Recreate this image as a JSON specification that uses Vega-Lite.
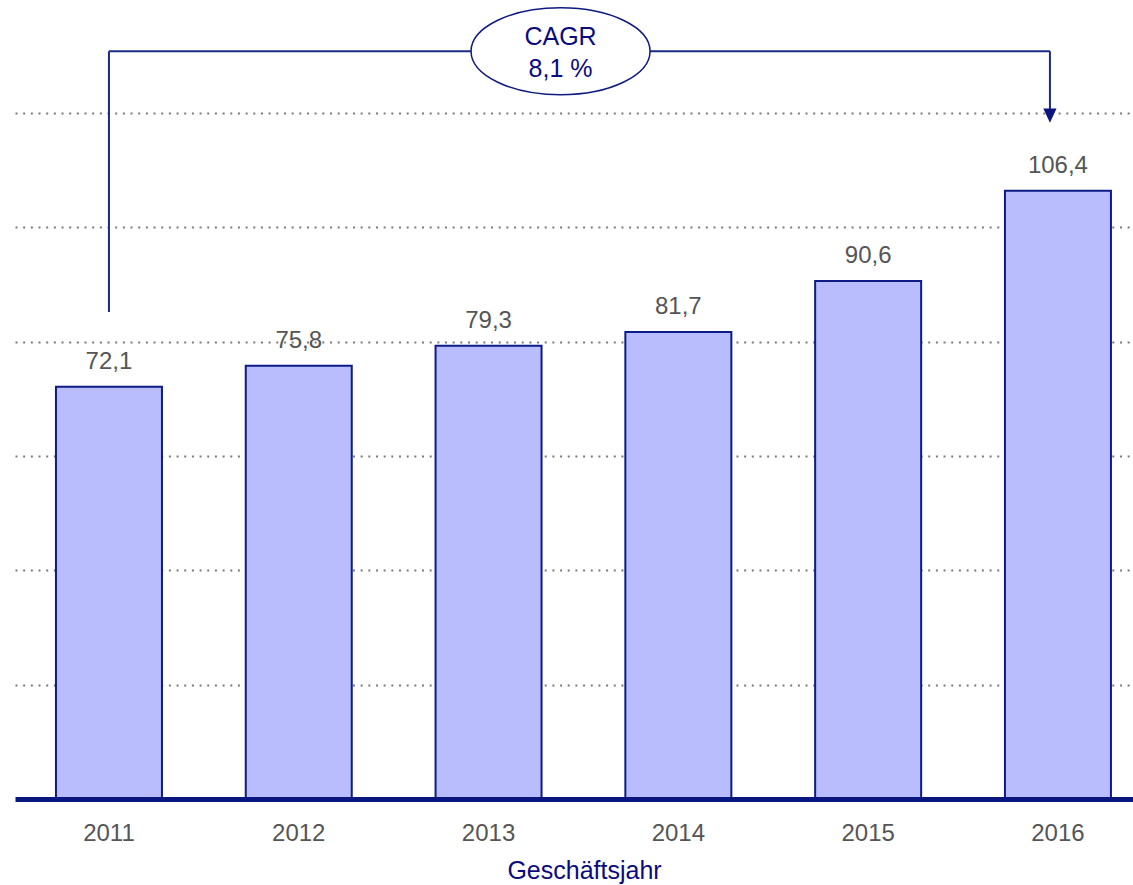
{
  "$schema": "https://vega.github.io/schema/vega-lite/v6.json",
  "width": 1118,
  "height": 686,
  "autosize": {"type": "none"},
  "padding": {"left": 15, "top": 113, "right": 0, "bottom": 86},
  "config": {
    "font": "Liberation Sans",
    "view": {"stroke": null},
    "locale": {"number": {"decimal": ",", "thousands": ".", "grouping": [3], "currency": ["", " €"]}}
  },
  "encoding": {
    "x": {
      "field": "year",
      "type": "ordinal",
      "scale": {"paddingInner": 0.4415, "paddingOuter": 0.166, "align": 0.65},
      "axis": {
        "title": "Geschäftsjahr",
        "labelAngle": 0,
        "grid": false,
        "ticks": false,
        "tickSize": 0,
        "domainColor": "#0a1680",
        "domainWidth": 5,
        "labelFontSize": 24,
        "labelColor": "#555555",
        "labelPadding": 41,
        "labelBaseline": "alphabetic",
        "titleFontSize": 25,
        "titleFontWeight": "normal",
        "titleColor": "#0b0b7d",
        "titleBaseline": "alphabetic",
        "titleAlign": "center",
        "titleX": 569,
        "titleY": 79,
        "zindex": 1
      }
    },
    "y": {
      "field": "value",
      "type": "quantitative",
      "scale": {"domain": [0, 120], "nice": false},
      "axis": {
        "title": null,
        "domain": false,
        "labels": false,
        "ticks": false,
        "grid": true,
        "values": [20, 40, 60, 80, 100, 120],
        "gridColor": "#7a7a7a",
        "gridWidth": 2,
        "gridDash": [2, 5.67]
      }
    }
  },
  "layer": [
    {
      "data": {"values": [
        {"year": "2011", "value": 72.1},
        {"year": "2012", "value": 75.8},
        {"year": "2013", "value": 79.3},
        {"year": "2014", "value": 81.7},
        {"year": "2015", "value": 90.6},
        {"year": "2016", "value": 106.4}
      ]},
      "layer": [
        {"mark": {"type": "bar", "fill": "#b9bdfe", "stroke": "#0d1b85", "strokeWidth": 2}},
        {
          "mark": {"type": "text", "baseline": "alphabetic", "dy": -18, "fontSize": 24, "color": "#555555"},
          "encoding": {"text": {"field": "value", "type": "quantitative", "format": ".1f"}}
        }
      ]
    },
    {
      "data": {"values": [{"year": "2011", "value": 85.2, "value2": 130.8}]},
      "mark": {"type": "rule", "stroke": "#1c2a88", "strokeWidth": 2},
      "encoding": {"y2": {"field": "value2"}}
    },
    {
      "data": {"values": [{"year": "2011", "year2": "2016", "value": 130.8}]},
      "mark": {"type": "rule", "stroke": "#1c2a88", "strokeWidth": 2, "x2Offset": -8},
      "encoding": {"x2": {"field": "year2"}}
    },
    {
      "data": {"values": [{"year": "2016", "value": 130.8, "value2": 120.5}]},
      "mark": {"type": "rule", "stroke": "#1c2a88", "strokeWidth": 2, "xOffset": -8},
      "encoding": {"y2": {"field": "value2"}}
    },
    {
      "data": {"values": [{"year": "2016", "value": 119.55}]},
      "mark": {"type": "point", "shape": "M -0.92 -1 L 0.92 -1 L 0 1 Z", "size": 207, "filled": true, "fill": "#0b1580", "stroke": null, "opacity": 1, "xOffset": -8}
    },
    {
      "data": {"values": [{"year": "2013", "value": 130.8, "label": "CAGR\n8,1 %"}]},
      "layer": [
        {"mark": {"type": "point", "shape": "M -1 0 A 1 0.486 0 1 0 1 0 A 1 0.486 0 1 0 -1 0 Z", "size": 32041, "filled": false, "fill": "#ffffff", "fillOpacity": 1, "stroke": "#0d1a80", "strokeWidth": 1.5, "opacity": 1, "xOffset": 72}},
        {
          "mark": {"type": "text", "lineBreak": "\n", "lineHeight": 32, "baseline": "alphabetic", "dy": -6, "fontSize": 25, "color": "#0b0b7d", "xOffset": 72},
          "encoding": {"text": {"field": "label"}}
        }
      ]
    }
  ]
}
